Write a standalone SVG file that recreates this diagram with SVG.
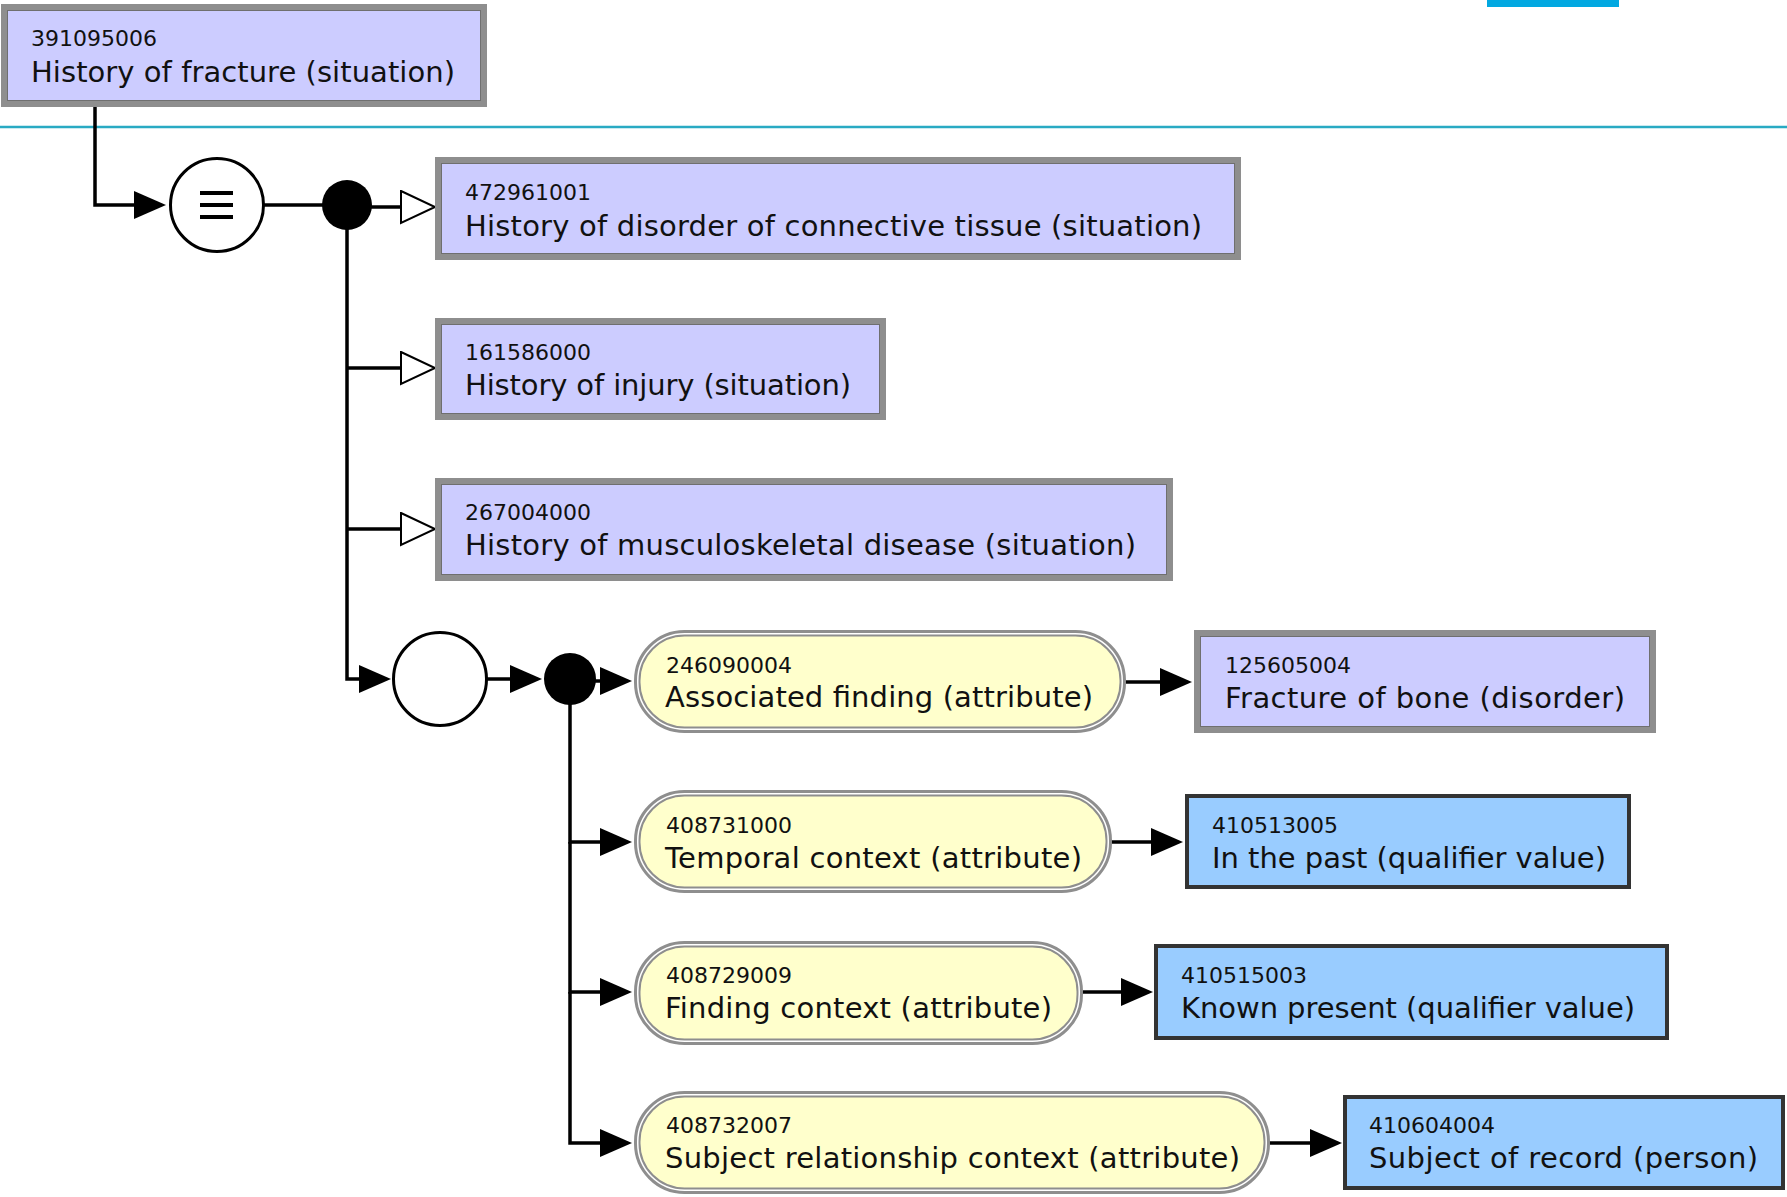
<svg xmlns="http://www.w3.org/2000/svg" width="1787" height="1197" viewBox="0 0 1787 1197">
  <defs>
    <style>
      .id { font-family: "DejaVu Sans", "Liberation Sans", sans-serif; font-size: 22px; fill: #111; }
      .term { font-family: "DejaVu Sans", "Liberation Sans", sans-serif; font-size: 29px; fill: #111; }
      .concept-frame { fill: #ccccff; stroke: #8e8e8e; stroke-width: 6; }
      .concept-edge { fill: none; stroke: #6f6f6f; stroke-width: 1; }
      .attr-outer { fill: #ffffff; stroke: #8e8e8e; stroke-width: 3; }
      .attr-inner { fill: #ffffcc; stroke: #8e8e8e; stroke-width: 2; }
      .value { fill: #99ccff; stroke: #333333; stroke-width: 4; }
      .link { fill: none; stroke: #000; stroke-width: 3.5; }
      .arrow { marker-end: url(#solid); }
      .isa { marker-end: url(#hollow); }
    </style>
    <marker id="solid" markerUnits="userSpaceOnUse" markerWidth="34" markerHeight="30" refX="0" refY="14" orient="auto">
      <path d="M0,0 L32,14 L0,28 Z" fill="#000"/>
    </marker>
    <marker id="hollow" markerUnits="userSpaceOnUse" markerWidth="38" markerHeight="36" refX="1" refY="17" orient="auto">
      <path d="M1,1 L35,17 L1,33 Z" fill="#fff" stroke="#000" stroke-width="2"/>
    </marker>
  </defs>

  <rect width="1787" height="1197" fill="#ffffff"/>

  <!-- header rule and tab -->
  <line x1="0" y1="127" x2="1787" y2="127" stroke="#29aac3" stroke-width="2.5"/>
  <rect x="1487" y="0" width="132" height="7" fill="#02a8e1"/>

  <!-- connectors -->
  <g id="connectors">
    <path class="link arrow" d="M95,107 V205 H134"/>
    <path class="link" d="M264,205 H330"/>
    <path class="link isa" d="M347,207 H401"/>
    <path class="link isa" d="M347,368 H401"/>
    <path class="link isa" d="M347,529 H401"/>
    <path class="link arrow" d="M347,205 V679 H359"/>
    <path class="link arrow" d="M487,679 H510"/>
    <path class="link arrow" d="M570,681 H600"/>
    <path class="link arrow" d="M570,679 V842 H600"/>
    <path class="link arrow" d="M570,842 V992 H600"/>
    <path class="link arrow" d="M570,992 V1143 H600"/>
    <path class="link arrow" d="M1126,682 H1160"/>
    <path class="link arrow" d="M1112,842 H1151"/>
    <path class="link arrow" d="M1083,992 H1121"/>
    <path class="link arrow" d="M1270,1143 H1310"/>
  </g>

  <!-- operators -->
  <g id="equivalence">
    <circle cx="217" cy="205" r="46.5" fill="#fff" stroke="#000" stroke-width="3"/>
    <rect x="200" y="191" width="33" height="4" fill="#000"/>
    <rect x="200" y="203" width="33" height="4" fill="#000"/>
    <rect x="200" y="215" width="33" height="4" fill="#000"/>
  </g>
  <g id="conjunction-1"><circle cx="347" cy="205" r="25" fill="#000"/></g>
  <g id="refinement"><circle cx="440" cy="679" r="46.5" fill="#fff" stroke="#000" stroke-width="3"/></g>
  <g id="conjunction-2"><circle cx="570" cy="679" r="26" fill="#000"/></g>

  <!-- defined concept -->
  <g id="c391095006">
    <rect class="concept-frame" x="4" y="7" width="480" height="97"/>
    <rect class="concept-edge" x="7.5" y="10.5" width="473" height="90"/>
    <text class="id" x="31" y="46" textLength="126" lengthAdjust="spacing">391095006</text>
    <text class="term" x="31" y="82" textLength="424" lengthAdjust="spacing">History of fracture (situation)</text>
  </g>

  <!-- parent concepts -->
  <g id="c472961001">
    <rect class="concept-frame" x="438" y="160" width="800" height="97"/>
    <rect class="concept-edge" x="441.5" y="163.5" width="793" height="90"/>
    <text class="id" x="465" y="200" textLength="126" lengthAdjust="spacing">472961001</text>
    <text class="term" x="465" y="236" textLength="737" lengthAdjust="spacing">History of disorder of connective tissue (situation)</text>
  </g>
  <g id="c161586000">
    <rect class="concept-frame" x="438" y="321" width="445" height="96"/>
    <rect class="concept-edge" x="441.5" y="324.5" width="438" height="89"/>
    <text class="id" x="465" y="360" textLength="126" lengthAdjust="spacing">161586000</text>
    <text class="term" x="465" y="395" textLength="386" lengthAdjust="spacing">History of injury (situation)</text>
  </g>
  <g id="c267004000">
    <rect class="concept-frame" x="438" y="481" width="732" height="97"/>
    <rect class="concept-edge" x="441.5" y="484.5" width="725" height="90"/>
    <text class="id" x="465" y="520" textLength="126" lengthAdjust="spacing">267004000</text>
    <text class="term" x="465" y="555" textLength="671" lengthAdjust="spacing">History of musculoskeletal disease (situation)</text>
  </g>

  <!-- attributes -->
  <g id="a246090004">
    <rect class="attr-outer" x="635.5" y="631.5" width="489" height="100" rx="49"/>
    <rect class="attr-inner" x="639.5" y="635.5" width="481" height="92" rx="45"/>
    <text class="id" x="666" y="673" textLength="126" lengthAdjust="spacing">246090004</text>
    <text class="term" x="665" y="707" textLength="428" lengthAdjust="spacing">Associated finding (attribute)</text>
  </g>
  <g id="a408731000">
    <rect class="attr-outer" x="635.5" y="791.5" width="475" height="100" rx="49"/>
    <rect class="attr-inner" x="639.5" y="795.5" width="467" height="92" rx="45"/>
    <text class="id" x="666" y="833" textLength="126" lengthAdjust="spacing">408731000</text>
    <text class="term" x="665" y="868" textLength="417" lengthAdjust="spacing">Temporal context (attribute)</text>
  </g>
  <g id="a408729009">
    <rect class="attr-outer" x="635.5" y="942.5" width="446" height="101" rx="49"/>
    <rect class="attr-inner" x="639.5" y="946.5" width="438" height="93" rx="45"/>
    <text class="id" x="666" y="983" textLength="126" lengthAdjust="spacing">408729009</text>
    <text class="term" x="665" y="1018" textLength="387" lengthAdjust="spacing">Finding context (attribute)</text>
  </g>
  <g id="a408732007">
    <rect class="attr-outer" x="635.5" y="1092.5" width="633" height="100" rx="49"/>
    <rect class="attr-inner" x="639.5" y="1096.5" width="625" height="92" rx="45"/>
    <text class="id" x="666" y="1133" textLength="126" lengthAdjust="spacing">408732007</text>
    <text class="term" x="665" y="1168" textLength="575" lengthAdjust="spacing">Subject relationship context (attribute)</text>
  </g>

  <!-- attribute values -->
  <g id="c125605004">
    <rect class="concept-frame" x="1197" y="633" width="456" height="97"/>
    <rect class="concept-edge" x="1200.5" y="636.5" width="449" height="90"/>
    <text class="id" x="1225" y="673" textLength="126" lengthAdjust="spacing">125605004</text>
    <text class="term" x="1225" y="708" textLength="400" lengthAdjust="spacing">Fracture of bone (disorder)</text>
  </g>
  <g id="c410513005">
    <rect class="value" x="1187" y="796" width="442" height="91"/>
    <text class="id" x="1212" y="833" textLength="126" lengthAdjust="spacing">410513005</text>
    <text class="term" x="1212" y="868" textLength="394" lengthAdjust="spacing">In the past (qualifier value)</text>
  </g>
  <g id="c410515003">
    <rect class="value" x="1156" y="946" width="511" height="92"/>
    <text class="id" x="1181" y="983" textLength="126" lengthAdjust="spacing">410515003</text>
    <text class="term" x="1181" y="1018" textLength="454" lengthAdjust="spacing">Known present (qualifier value)</text>
  </g>
  <g id="c410604004">
    <rect class="value" x="1345" y="1097" width="438" height="91"/>
    <text class="id" x="1369" y="1133" textLength="126" lengthAdjust="spacing">410604004</text>
    <text class="term" x="1369" y="1168" textLength="389" lengthAdjust="spacing">Subject of record (person)</text>
  </g>
</svg>
